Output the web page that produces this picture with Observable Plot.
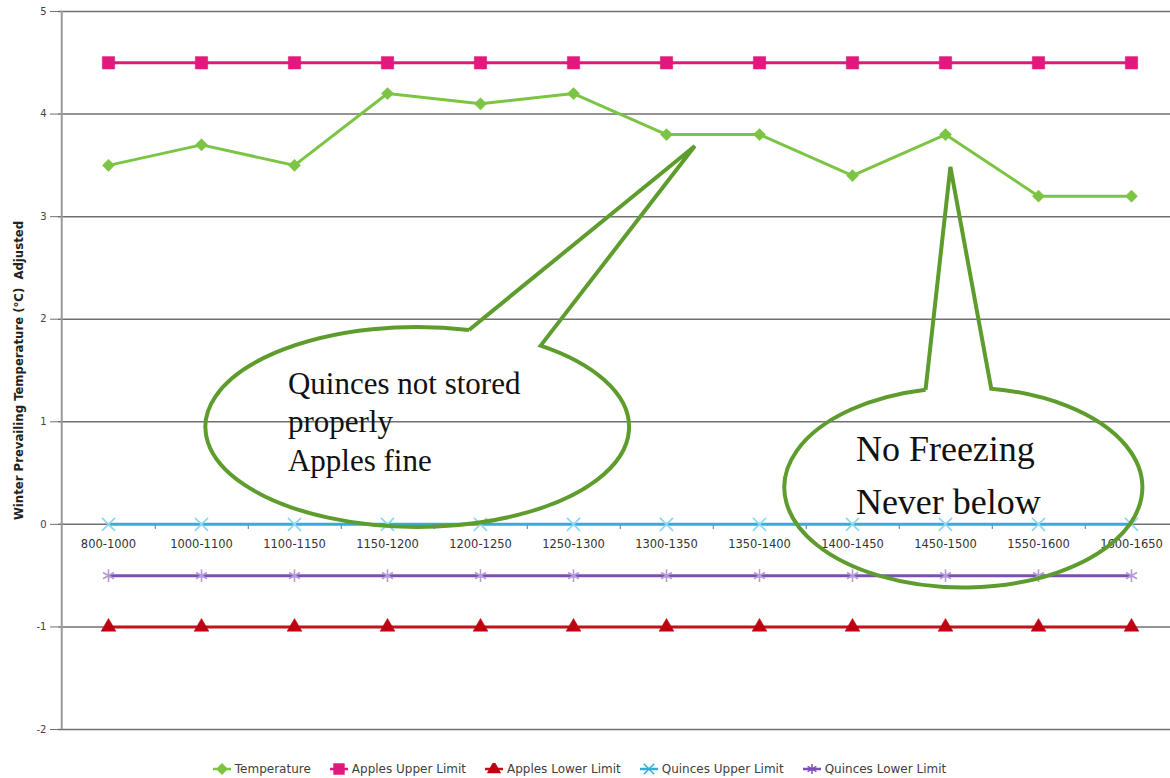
<!DOCTYPE html>
<html><head><meta charset="utf-8">
<script src="https://cdn.jsdelivr.net/npm/d3@7"></script>
<script src="https://cdn.jsdelivr.net/npm/@observablehq/plot@0.6"></script>
<style>
body{margin:0;background:#fff;font-family:"DejaVu Sans",sans-serif;}
#legend{display:flex;justify-content:center;align-items:center;height:24px;margin-top:12px;padding-right:12px;gap:18px;font-size:12px;color:#404040;}
.item{display:flex;align-items:center;}
.item svg{margin-right:3px;}
</style></head><body><div id="chart"></div><div id="legend"></div>
<script>
const periods = ["800-1000","1000-1100","1100-1150","1150-1200","1200-1250","1250-1300","1300-1350","1350-1400","1400-1450","1450-1500","1550-1600","1600-1650"];
const temperature   = [3.5, 3.7, 3.5, 4.2, 4.1, 4.2, 3.8, 3.8, 3.4, 3.8, 3.2, 3.2];
const applesUpper   = [4.5, 4.5, 4.5, 4.5, 4.5, 4.5, 4.5, 4.5, 4.5, 4.5, 4.5, 4.5];
const applesLower   = [-1, -1, -1, -1, -1, -1, -1, -1, -1, -1, -1, -1];
const quincesUpper  = [0, 0, 0, 0, 0, 0, 0, 0, 0, 0, 0, 0];
const quincesLower  = [-0.5, -0.5, -0.5, -0.5, -0.5, -0.5, -0.5, -0.5, -0.5, -0.5, -0.5, -0.5];
const yTicks = [-2, -1, 0, 1, 2, 3, 4, 5];
const seriesNames = ["Temperature", "Apples Upper Limit", "Apples Lower Limit", "Quinces Upper Limit", "Quinces Lower Limit"];
const yLabel = "Winter Prevailing Temperature (°C)  Adjusted";

const seriesValues = [temperature, applesUpper, applesLower, quincesUpper, quincesLower];
const styles = [
  {line: "#7cc443", mark: "#7cc443", symbol: "diamond2", r: 5.5, filled: true},
  {line: "#e2197c", mark: "#e2197c", symbol: "square", r: 7, filled: true},
  {line: "#c4121b", mark: "#c00010", symbol: "triangle", r: 5.5, filled: true},
  {line: "#33aed6", mark: "#8fd6ef", symbol: "times", r: 6, filled: false},
  {line: "#7b4fb6", mark: "#b49ad9", symbol: "asterisk", r: 6, filled: false}
];
const rows = seriesNames.map((name, s) => periods.map((p, i) => ({series: name, period: p, value: seriesValues[s][i]})));

const W = 1170, H = 745;
const xRange = [58.3, 1180.3];
const half = (xRange[1] - xRange[0]) / periods.length / 2;

const marks = [
  Plot.gridY(yTicks, {stroke: "#707070", strokeOpacity: 1, strokeWidth: 1.5}),
  Plot.axisY({ticks: yTicks, tickSize: 8, tickPadding: 4, fontSize: 10, label: null, stroke: "#707070", tickFormat: d => String(d)}),
  Plot.ruleX([periods[0]], {x: d => d, dx: -half, y1: () => -2, y2: () => 5, stroke: "#9a9a9a", strokeWidth: 2}),
  Plot.ruleX(periods, {x: d => d, dx: half, y1: () => 0.0, y2: () => -0.05, stroke: "#3d7f9e", strokeWidth: 1})
];
rows.forEach((data, s) => {
  const st = styles[s];
  marks.push(Plot.line(data, {x: "period", y: "value", stroke: st.line, strokeWidth: 3}));
  marks.push(Plot.dot(data, {x: "period", y: "value", symbol: () => st.symbol, r: st.r,
    fill: st.filled ? st.mark : "none", stroke: st.mark, strokeWidth: st.filled ? 0.5 : 1.6}));
});
marks.push(Plot.text(periods, {x: d => d, y: () => 0, dy: 20, fontSize: 11.5, fill: "#333"}));
marks.push(Plot.text([yLabel], {frameAnchor: "left", textAnchor: "middle", dx: -40, rotate: -90, fontSize: 13, fontWeight: "bold", fill: "#222", fontFamily: "'DejaVu Sans Condensed', 'Liberation Sans Narrow', 'DejaVu Sans'", fontStretch: "condensed"}));

const chart = Plot.plot({
  width: W, height: H,
  marginLeft: 58, marginRight: 0, marginTop: 11, marginBottom: 16,
  style: {background: "white", color: "#444", fontFamily: "DejaVu Sans", overflow: "visible"},
  symbol: {type: "identity"},
  x: {type: "point", domain: periods, range: xRange, padding: 0.5, axis: null},
  y: {domain: [-2, 5], axis: null},
  marks
});
document.getElementById("chart").appendChild(chart);

// Speech-bubble callouts, positioned in data units (category index, °C) through the plot's scales
const callouts = [
  {cx: 3.325, cy: 0.945, rx: 2.278, ry: 0.975, tip: [6.31, 3.684], base: [3.882, 4.652],
   lines: ["Quinces not stored", "properly", "Apples fine"], tx: 1.935, ty: [1.266, 0.891, 0.515], size: 31},
  {cx: 9.197, cy: 0.355, rx: 1.925, ry: 0.975, tip: [9.058, 3.48], base: [8.791, 9.497],
   lines: ["No Freezing", "Never below"], tx: 8.042, ty: [0.613, 0.096], size: 36}
];
const xs = chart.scale("x"), ys = chart.scale("y");
const x0 = xs.apply(periods[0]), step = xs.apply(periods[1]) - x0;
const px = i => x0 + i * step, py = v => ys.apply(v);
const g = d3.select(chart).append("g");
callouts.forEach(c => {
  const CX = px(c.cx), CY = py(c.cy), RX = c.rx * step, RY = py(0) - py(c.ry);
  const by = bx => CY - RY * Math.sqrt(Math.max(0, 1 - ((bx - CX) / RX) ** 2));
  const bL = px(c.base[0]), bR = px(c.base[1]);
  const path = `M${bL},${by(bL)}L${px(c.tip[0])},${py(c.tip[1])}L${bR},${by(bR)}A${RX},${RY} 0 1 1 ${bL},${by(bL)}`;
  g.append("path").attr("d", path).attr("fill", "none").attr("stroke", "#5e9d2d").attr("stroke-width", 4).attr("stroke-linejoin", "miter");
  c.lines.forEach((t, k) => {
    g.append("text").attr("x", px(c.tx)).attr("y", py(c.ty[k])).attr("text-anchor", "start")
      .attr("font-family", "'Liberation Serif', 'Times New Roman', serif")
      .attr("font-size", c.size).attr("fill", "#111").text(t);
  });
});

// Legend
const legend = d3.select("#legend");
seriesNames.forEach((name, s) => {
  const st = styles[s];
  const item = legend.append("div").attr("class", "item");
  const svg = item.append("svg").attr("width", 20).attr("height", 12);
  svg.append("line").attr("x1", 1).attr("x2", 19).attr("y1", 6).attr("y2", 6).attr("stroke", st.line).attr("stroke-width", 2.5);
  const symMap = {diamond2: d3.symbolDiamond2, square: d3.symbolSquare, triangle: d3.symbolTriangle, times: d3.symbolTimes, asterisk: d3.symbolAsterisk};
  svg.append("path").attr("transform", "translate(10,6)").attr("d", d3.symbol(symMap[st.symbol], Math.PI * (st.r * 0.8) ** 2)())
    .attr("fill", st.filled ? st.mark : "none").attr("stroke", st.filled ? st.mark : st.line).attr("stroke-width", 1.5);
  item.append("span").text(name);
});
</script>
</body></html>
